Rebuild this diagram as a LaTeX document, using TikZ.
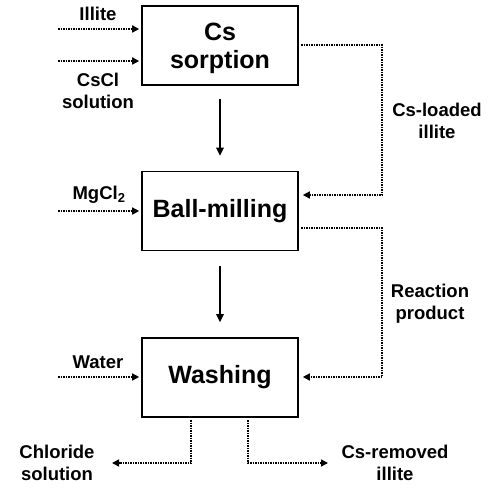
\documentclass[tikz,border=0pt]{standalone}
\usepackage{fontspec}
\setmainfont{Liberation Sans}
\usetikzlibrary{arrows.meta}
\newcommand{\lowerby}[1]{\raisebox{-3pt}[\height][\depth]{#1}}
\begin{document}
\begin{tikzpicture}[x=1pt,y=-1pt,
 box/.style={draw, line width=1.6pt, minimum width=156pt, minimum height=79pt, inner sep=0pt, align=center, font=\fontsize{25}{28.5}\selectfont\bfseries},
 lbl/.style={align=center, font=\fontsize{18.5}{22}\selectfont\bfseries, inner sep=0pt},
 flow/.style={line width=1.4pt, -{Triangle[length=8pt,width=7.5pt]}},
 feed/.style={line width=1.5pt, densely dotted, -{Triangle[length=7pt,width=7pt]}}]
\useasboundingbox (0,0) rectangle (496,488);
% boxes
\node[box] (b1) at (220,45.5) {\lowerby{Cs}\\\lowerby{sorption}};
\node[box] (b2) at (220,211) {Ball-milling};
\node[box] (b3) at (220,377.5) {Washing};
% main flow
\draw[flow, shorten <=13pt, shorten >=15pt] (b1) -- (b2);
\draw[flow, shorten <=15pt, shorten >=15pt] (b2) -- (b3);
% inputs
\coordinate (i1) at (58,29);
\coordinate (i2) at (58,61);
\coordinate (i3) at (58,211);
\coordinate (i4) at (58,377);
\draw[feed, shorten >=2pt] (i1) -- (i1 -| b1.west);
\draw[feed, shorten >=2pt] (i2) -- (i2 -| b1.west);
\draw[feed, shorten >=2pt] (i3) -- (i3 -| b2.west);
\draw[feed, shorten >=2pt] (i4) -- (i4 -| b3.west);
\node[lbl] (tIllite) at (98,14) {Illite};
\node[lbl] (tCsCl) at (98,91) {CsCl\\solution};
\node[lbl] (tMg) at (99,195) {MgCl\textsubscript{2}};
\node[lbl] (tWater) at (98,362) {Water};
% right loops
\coordinate (r1) at (301,45);
\coordinate (r2) at (382,195);
\draw[feed] (r1) -- (r1 -| r2) -- (r2) -- ([xshift=4pt]r2 -| b2.east);
\coordinate (r3) at (301,228);
\coordinate (r4) at (382,377);
\draw[feed] (r3) -- (r3 -| r4) -- (r4) -- ([xshift=4pt]r4 -| b3.east);
\node[lbl] (tLoaded) at (437,121) {Cs-loaded\\illite};
\node[lbl] (tReact) at (430,304) {Reaction\\product};
% outputs
\coordinate (o1) at (191,420);
\coordinate (o1e) at (112,463);
\draw[feed] (o1) -- (o1 |- o1e) -- (o1e);
\coordinate (o2) at (248,420);
\coordinate (o2e) at (328,463);
\draw[feed] (o2) -- (o2 |- o2e) -- (o2e);
\node[lbl] (tChl) at (57,463) {Chloride\\solution};
\node[lbl] (tRem) at (395,463) {Cs-removed\\illite};
\end{tikzpicture}
\end{document}
